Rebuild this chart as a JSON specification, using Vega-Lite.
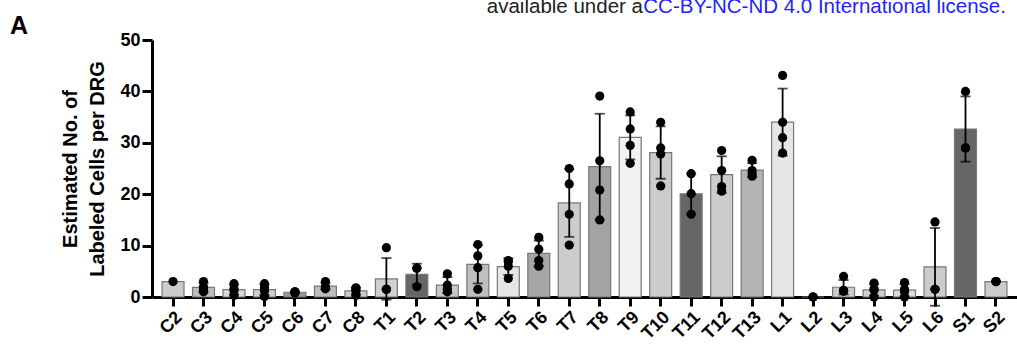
{
  "$schema": "https://vega.github.io/schema/vega-lite/v6.json",
  "width": 865,
  "height": 257,
  "autosize": {"type": "none"},
  "padding": {"left": 152, "top": 40, "right": 0, "bottom": 54},
  "background": "white",
  "config": {"font": "Liberation Sans", "view": {"stroke": null}, "axis": {"grid": false}},
  "datasets": {
    "cells": [
      {"seg": "C2", "v": 3.0},
      {"seg": "C3", "v": 1.0}, {"seg": "C3", "v": 1.5}, {"seg": "C3", "v": 2.0}, {"seg": "C3", "v": 3.0},
      {"seg": "C4", "v": 0.3}, {"seg": "C4", "v": 1.2}, {"seg": "C4", "v": 1.6}, {"seg": "C4", "v": 2.6},
      {"seg": "C5", "v": 0.1}, {"seg": "C5", "v": 1.2}, {"seg": "C5", "v": 1.8}, {"seg": "C5", "v": 2.6},
      {"seg": "C6", "v": 0.8}, {"seg": "C6", "v": 0.9}, {"seg": "C6", "v": 1.0}, {"seg": "C6", "v": 1.0},
      {"seg": "C7", "v": 1.6}, {"seg": "C7", "v": 1.8}, {"seg": "C7", "v": 2.0}, {"seg": "C7", "v": 3.0},
      {"seg": "C8", "v": 0.3}, {"seg": "C8", "v": 1.2}, {"seg": "C8", "v": 1.5}, {"seg": "C8", "v": 1.8},
      {"seg": "T1", "v": 9.6}, {"seg": "T1", "v": 1.5}, {"seg": "T1", "v": 1.5}, {"seg": "T1", "v": 1.5},
      {"seg": "T2", "v": 5.6}, {"seg": "T2", "v": 5.6}, {"seg": "T2", "v": 2.0},
      {"seg": "T3", "v": 4.5}, {"seg": "T3", "v": 2.3}, {"seg": "T3", "v": 1.5}, {"seg": "T3", "v": 1.0},
      {"seg": "T4", "v": 10.2}, {"seg": "T4", "v": 8.0}, {"seg": "T4", "v": 5.7}, {"seg": "T4", "v": 1.5},
      {"seg": "T5", "v": 7.1}, {"seg": "T5", "v": 6.9}, {"seg": "T5", "v": 6.0}, {"seg": "T5", "v": 3.6},
      {"seg": "T6", "v": 11.6}, {"seg": "T6", "v": 9.3}, {"seg": "T6", "v": 7.1}, {"seg": "T6", "v": 6.0},
      {"seg": "T7", "v": 25.0}, {"seg": "T7", "v": 22.0}, {"seg": "T7", "v": 16.1}, {"seg": "T7", "v": 10.1},
      {"seg": "T8", "v": 39.1}, {"seg": "T8", "v": 26.5}, {"seg": "T8", "v": 20.8}, {"seg": "T8", "v": 15.0},
      {"seg": "T9", "v": 36.0}, {"seg": "T9", "v": 32.7}, {"seg": "T9", "v": 29.5}, {"seg": "T9", "v": 26.0},
      {"seg": "T10", "v": 34.0}, {"seg": "T10", "v": 29.0}, {"seg": "T10", "v": 27.8}, {"seg": "T10", "v": 21.6},
      {"seg": "T11", "v": 24.0}, {"seg": "T11", "v": 20.1}, {"seg": "T11", "v": 16.1},
      {"seg": "T12", "v": 28.5}, {"seg": "T12", "v": 24.6}, {"seg": "T12", "v": 21.5}, {"seg": "T12", "v": 20.6},
      {"seg": "T13", "v": 26.6}, {"seg": "T13", "v": 24.6}, {"seg": "T13", "v": 24.0}, {"seg": "T13", "v": 23.5},
      {"seg": "L1", "v": 43.1}, {"seg": "L1", "v": 34.0}, {"seg": "L1", "v": 31.0}, {"seg": "L1", "v": 28.0},
      {"seg": "L2", "v": 0.0}, {"seg": "L2", "v": 0.0}, {"seg": "L2", "v": 0.0},
      {"seg": "L3", "v": 4.0}, {"seg": "L3", "v": 1.3}, {"seg": "L3", "v": 1.2}, {"seg": "L3", "v": 1.1},
      {"seg": "L4", "v": 0.0}, {"seg": "L4", "v": 1.3}, {"seg": "L4", "v": 1.6}, {"seg": "L4", "v": 2.7},
      {"seg": "L5", "v": 0.0}, {"seg": "L5", "v": 1.0}, {"seg": "L5", "v": 1.5}, {"seg": "L5", "v": 2.8},
      {"seg": "L6", "v": 14.6}, {"seg": "L6", "v": 1.5}, {"seg": "L6", "v": 1.5},
      {"seg": "S1", "v": 40.0}, {"seg": "S1", "v": 29.0}, {"seg": "S1", "v": 29.0},
      {"seg": "S2", "v": 3.0}, {"seg": "S2", "v": 3.0}, {"seg": "S2", "v": 3.0}
    ],
    "notes": [
      {"label": "A"}
    ]
  },
  "layer": [
    {
      "data": {"name": "cells"},
      "mark": {"type": "bar", "stroke": "#777777", "strokeWidth": 1.2},
      "encoding": {
        "x": {"field": "seg", "type": "nominal", "sort": null,
          "scale": {"domain": ["C2","C3","C4","C5","C6","C7","C8","T1","T2","T3","T4","T5","T6","T7","T8","T9","T10","T11","T12","T13","L1","L2","L3","L4","L5","L6","S1","S2"], "paddingInner": 0.28, "paddingOuter": 0.33},
          "axis": {"title": null, "labelAngle": -45, "labelFontSize": 18, "labelFontWeight": "bold", "labelColor": "black", "domainColor": "black", "domainWidth": 3, "tickColor": "black", "tickWidth": 3, "tickSize": 9, "labelPadding": 2}},
        "y": {"aggregate": "mean", "field": "v", "type": "quantitative",
          "scale": {"domain": [0, 50], "nice": false},
          "title": ["Estimated No. of", "Labeled Cells per DRG"],
          "axis": {"values": [0, 10, 20, 30, 40, 50], "labelFontSize": 18, "labelFontWeight": "bold", "labelColor": "black", "domainColor": "black", "domainWidth": 3, "tickColor": "black", "tickWidth": 3, "tickSize": 10, "labelPadding": 2, "titleFontSize": 20, "titleFontWeight": "bold", "titleColor": "black", "titleLineHeight": 27, "titlePadding": 12}},
        "color": {"field": "seg", "type": "nominal", "legend": null,
          "scale": {"domain": ["C2","C3","C4","C5","C6","C7","C8","T1","T2","T3","T4","T5","T6","T7","T8","T9","T10","T11","T12","T13","L1","L2","L3","L4","L5","L6","S1","S2"],
            "range": ["#cccccc","#bdbdbd","#d9d9d9","#d0d0d0","#999999","#bdbdbd","#cccccc","#d0d0d0","#666666","#c8c8c8","#bfbfbf","#e6e6e6","#a6a6a6","#cccccc","#a3a3a3","#f2f2f2","#cccccc","#666666","#cccccc","#b3b3b3","#e6e6e6","#cccccc","#cccccc","#d0d0d0","#dddddd","#cccccc","#666666","#cccccc"]}}
      }
    },
    {
      "data": {"name": "cells"},
      "mark": {"type": "errorbar", "extent": "stdev", "ticks": {"size": 10, "thickness": 1.8, "color": "black"}, "rule": {"strokeWidth": 1.8, "color": "black"}},
      "encoding": {
        "x": {"field": "seg", "type": "nominal", "sort": null},
        "y": {"field": "v", "type": "quantitative", "title": ["Estimated No. of", "Labeled Cells per DRG"]}
      }
    },
    {
      "data": {"name": "cells"},
      "mark": {"type": "circle", "size": 85, "color": "black", "opacity": 1},
      "encoding": {
        "x": {"field": "seg", "type": "nominal", "sort": null},
        "y": {"field": "v", "type": "quantitative", "title": ["Estimated No. of", "Labeled Cells per DRG"]}
      }
    },
    {
      "data": {"name": "notes"},
      "mark": {"type": "text", "text": "A", "align": "left", "baseline": "alphabetic", "dx": -163, "fontSize": 25, "fontWeight": "bold", "color": "black"},
      "encoding": {
        "x": {"datum": "C2", "type": "nominal"},
        "y": {"datum": 51.2, "type": "quantitative"}
      }
    },
    {
      "data": {"name": "notes"},
      "mark": {"type": "text", "text": "CC-BY-NC-ND 4.0 International license.", "align": "right", "baseline": "alphabetic", "dx": 10, "fontSize": 20.5, "color": "#2323ff"},
      "encoding": {
        "x": {"datum": "S2", "type": "nominal"},
        "y": {"datum": 55.3, "type": "quantitative"}
      }
    },
    {
      "data": {"name": "notes"},
      "mark": {"type": "text", "text": "available under a", "align": "right", "baseline": "alphabetic", "dx": -353, "fontSize": 20.5, "color": "#222222"},
      "encoding": {
        "x": {"datum": "S2", "type": "nominal"},
        "y": {"datum": 55.3, "type": "quantitative"}
      }
    }
  ]
}
